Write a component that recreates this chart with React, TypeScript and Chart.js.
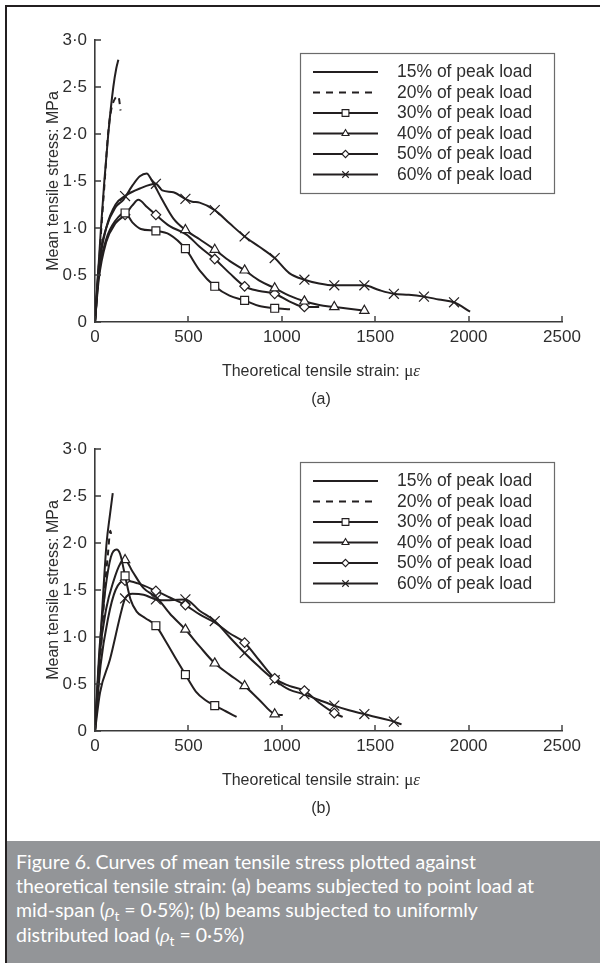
import React, { useEffect, useRef } from 'react';
import { Chart, registerables } from 'chart.js';
import { drawPoint } from 'chart.js/helpers';

Chart.register(...registerables);

// ---------- text ----------
const seriesLabels = [
  '15% of peak load',
  '20% of peak load',
  '30% of peak load',
  '40% of peak load',
  '50% of peak load',
  '60% of peak load',
];
const yAxisTitle = 'Mean tensile stress: MPa';
const xAxisTitle = 'Theoretical tensile strain: ';
const xAxisUnitMu = 'μ';
const xAxisUnitEps = 'ε';
const panelLabels = ['(a)', '(b)'];

// ---------- ticks ----------
const xTickValues = [0, 500, 1000, 1500, 2000, 2500];
const yTickValues = [0, 0.5, 1, 1.5, 2, 2.5, 3];
const yTickLabels = ['0', '0·5', '1·0', '1·5', '2·0', '2·5', '3·0'];
// strain readings at which markers were plotted
const markerStrains = [161, 326, 484, 641, 801, 962, 1121, 1281, 1442, 1600, 1761, 1922];

// ---------- panel (a): point load at mid-span ----------
const a15x = [0, 16, 32, 50, 71, 98, 114, 125];
const a15y = [0, 0.5, 1.0, 1.5, 2.0, 2.5, 2.7, 2.79];
const a20x = [0, 18, 34, 52, 70, 86, 108, 125, 137];
const a20y = [0, 0.5, 1.0, 1.5, 2.0, 2.25, 2.38, 2.4, 2.25];
const a30x = [0, 20, 60, 110, 161, 200, 245, 326, 400, 484, 560, 641, 720, 801, 880, 962, 1044];
const a30y = [0, 0.5, 0.88, 1.08, 1.16, 1.06, 0.99, 0.97, 0.93, 0.78, 0.55, 0.38, 0.28, 0.23, 0.17, 0.146, 0.135];
const a40x = [0, 20, 60, 110, 152, 200, 240, 277, 300, 360, 420, 484, 560, 641, 720, 801, 880, 962, 1040, 1121, 1200, 1281, 1360, 1442];
const a40y = [0, 0.6, 1.0, 1.22, 1.3, 1.45, 1.55, 1.58, 1.52, 1.3, 1.1, 0.98, 0.88, 0.77, 0.65, 0.55, 0.44, 0.36, 0.28, 0.22, 0.18, 0.16, 0.14, 0.12];
const a50x = [0, 20, 60, 110, 161, 200, 232, 280, 326, 400, 490, 560, 641, 720, 801, 880, 962, 1040, 1121, 1200];
const a50y = [0, 0.45, 0.85, 1.05, 1.14, 1.24, 1.3, 1.22, 1.14, 1.02, 0.93, 0.8, 0.67, 0.52, 0.38, 0.33, 0.3, 0.22, 0.16, 0.16];
const a60x = [0, 20, 60, 110, 161, 240, 326, 360, 420, 484, 520, 560, 641, 720, 801, 880, 962, 1040, 1121, 1200, 1281, 1360, 1442, 1520, 1600, 1680, 1761, 1840, 1922, 2008];
const a60y = [0, 0.55, 1.0, 1.25, 1.34, 1.42, 1.47, 1.4, 1.38, 1.31, 1.28, 1.27, 1.19, 1.05, 0.91, 0.8, 0.68, 0.52, 0.45, 0.41, 0.39, 0.39, 0.39, 0.34, 0.3, 0.29, 0.27, 0.24, 0.21, 0.11];

// ---------- panel (b): uniformly distributed load ----------
const b15x = [0, 15, 30, 45, 62, 80, 95];
const b15y = [0, 0.5, 1.0, 1.5, 2.0, 2.3, 2.53];
const b20x = [0, 18, 36, 52, 70, 82, 88];
const b20y = [0, 0.5, 1.0, 1.5, 1.9, 2.13, 2.08];
const b30x = [0, 25, 55, 85, 115, 135, 161, 190, 223, 270, 326, 380, 430, 484, 540, 590, 641, 700, 758];
const b30y = [0, 0.9, 1.5, 1.85, 1.93, 1.88, 1.65, 1.4, 1.27, 1.2, 1.12, 0.95, 0.78, 0.6, 0.42, 0.33, 0.27, 0.21, 0.15];
const b40x = [0, 25, 60, 100, 135, 161, 200, 260, 330, 400, 484, 560, 641, 720, 801, 880, 962, 1005];
const b40y = [0, 0.8, 1.3, 1.6, 1.78, 1.82, 1.7, 1.52, 1.42, 1.25, 1.08, 0.9, 0.72, 0.6, 0.48, 0.33, 0.18, 0.17];
const b50x = [0, 30, 70, 110, 161, 230, 326, 400, 484, 560, 645, 720, 801, 880, 962, 1040, 1121, 1200, 1281, 1326];
const b50y = [0, 0.7, 1.2, 1.5, 1.6, 1.57, 1.49, 1.42, 1.34, 1.24, 1.15, 1.04, 0.94, 0.75, 0.56, 0.48, 0.43, 0.3, 0.19, 0.15];
const b60x = [0, 27, 80, 143, 161, 200, 260, 326, 400, 484, 560, 641, 720, 801, 880, 962, 1040, 1121, 1200, 1281, 1360, 1442, 1520, 1600, 1641];
const b60y = [0, 0.41, 0.76, 1.29, 1.41, 1.46, 1.45, 1.4, 1.39, 1.4, 1.28, 1.17, 1.0, 0.83, 0.68, 0.54, 0.44, 0.39, 0.33, 0.27, 0.22, 0.18, 0.14, 0.1, 0.07];

// ---------- styles ----------
const INK = '#231f20';
const TEXT = '#2e2e2e';
const AXIS = '#3a3a3a';
const SANS = '"Liberation Sans", Arial, Helvetica, sans-serif';
const SERIF = '"Liberation Serif", "DejaVu Serif", serif';

const seriesStyles = [
  { dash: [] as number[], point: 'circle', r: 0, lr: 0 },
  { dash: [6, 5], point: 'circle', r: 0, lr: 0 },
  { dash: [] as number[], point: 'rect', r: 5.6, lr: 4.8 },
  { dash: [] as number[], point: 'triangle', r: 5.4, lr: 4 },
  { dash: [] as number[], point: 'rectRot', r: 4.8, lr: 3.6 },
  { dash: [] as number[], point: 'crossRot', r: 7, lr: 4.6 },
];

function buildDatasets(xs: number[][], ys: number[][]) {
  return xs.map((xArr, i) => {
    const st = seriesStyles[i];
    return {
      label: seriesLabels[i],
      data: xArr.map((x, j) => ({ x, y: ys[i][j] })),
      borderColor: INK,
      borderWidth: 2,
      borderDash: st.dash,
      cubicInterpolationMode: 'monotone' as const,
      pointStyle: st.point as any,
      pointRadius: xArr.map((x) => (st.r && markerStrains.includes(x) ? st.r : 0)),
      pointHoverRadius: 0,
      pointBorderWidth: 1.2,
      pointBorderColor: INK,
      pointBackgroundColor: '#ffffff',
      fill: false,
    };
  });
}

const decorPlugin = {
  id: 'decor',
  afterDraw(chart: any, _args: any, opts: any) {
    const { ctx, chartArea: ca, scales } = chart;
    const sx = scales.x;
    const sy = scales.y;
    ctx.save();

    // inward tick marks
    ctx.strokeStyle = AXIS;
    ctx.lineWidth = 1.4;
    ctx.setLineDash([]);
    ctx.beginPath();
    xTickValues.forEach((v) => {
      const p = Math.round(sx.getPixelForValue(v));
      ctx.moveTo(p, ca.bottom);
      ctx.lineTo(p, ca.bottom - 6);
    });
    yTickValues.forEach((v) => {
      const p = Math.round(sy.getPixelForValue(v));
      ctx.moveTo(ca.left, p);
      ctx.lineTo(ca.left + 6, p);
    });
    ctx.stroke();

    ctx.fillStyle = TEXT;
    ctx.textBaseline = 'middle';

    // y title
    ctx.font = `16px ${SANS}`;
    ctx.textAlign = 'center';
    ctx.save();
    ctx.translate(54, (ca.top + ca.bottom) / 2);
    ctx.rotate(-Math.PI / 2);
    ctx.fillText(yAxisTitle, 0, 0);
    ctx.restore();

    // x title (sans text + serif unit)
    const fSans = `16px ${SANS}`;
    const fMu = `17px ${SERIF}`;
    const fEps = `italic 17px ${SERIF}`;
    ctx.font = fSans;
    const w1 = ctx.measureText(xAxisTitle).width;
    ctx.font = fMu;
    const w2 = ctx.measureText(xAxisUnitMu).width;
    ctx.font = fEps;
    const w3 = ctx.measureText(xAxisUnitEps).width;
    const cx = 321;
    const ty = ca.bottom + 50;
    let x0 = cx - (w1 + w2 + w3) / 2;
    ctx.textAlign = 'left';
    ctx.font = fSans;
    ctx.fillText(xAxisTitle, x0, ty);
    x0 += w1;
    ctx.font = fMu;
    ctx.fillText(xAxisUnitMu, x0, ty);
    x0 += w2;
    ctx.font = fEps;
    ctx.fillText(xAxisUnitEps, x0, ty);

    // panel label
    ctx.font = `16px ${SANS}`;
    ctx.textAlign = 'center';
    ctx.fillText(opts.label, cx, ca.bottom + 78);

    // legend
    const boxL = 300.5;
    const boxR = 554.5;
    const boxT = Math.round(ca.top + 13) + 0.5;
    const boxH = 140;
    ctx.fillStyle = '#ffffff';
    ctx.fillRect(boxL, boxT, boxR - boxL, boxH);
    ctx.strokeStyle = '#6b6b6b';
    ctx.lineWidth = 1.2;
    ctx.strokeRect(boxL, boxT, boxR - boxL, boxH);
    seriesLabels.forEach((lab, i) => {
      const st = seriesStyles[i];
      const y = boxT + 18.5 + i * 20.5;
      ctx.strokeStyle = INK;
      ctx.lineWidth = 2;
      ctx.setLineDash(st.dash.length ? [7, 6] : []);
      ctx.beginPath();
      ctx.moveTo(313, y);
      ctx.lineTo(378, y);
      ctx.stroke();
      ctx.setLineDash([]);
      if (st.lr) {
        ctx.fillStyle = '#ffffff';
        ctx.strokeStyle = INK;
        ctx.lineWidth = 1.1;
        drawPoint(ctx, { pointStyle: st.point, radius: st.lr, rotation: 0, borderWidth: 1.1 } as any, 345.5, y);
      }
      ctx.fillStyle = TEXT;
      ctx.font = `17.5px ${SANS}`;
      ctx.textAlign = 'left';
      ctx.textBaseline = 'middle';
      ctx.fillText(lab, 397, y + 0.5);
    });

    ctx.restore();
  },
};

function Panel(props: { top: number; xs: number[][]; ys: number[][]; label: string }) {
  const ref = useRef<HTMLCanvasElement | null>(null);
  useEffect(() => {
    const canvas = ref.current;
    if (!canvas) return;
    const chart = new Chart(canvas, {
      type: 'line',
      data: { datasets: buildDatasets(props.xs, props.ys) as any },
      plugins: [decorPlugin as any],
      options: {
        animation: false,
        responsive: false,
        devicePixelRatio: 1,
        parsing: false as any,
        normalized: true,
        layout: { padding: { left: 0, top: 40, right: 38, bottom: 0 } },
        plugins: {
          legend: { display: false },
          tooltip: { enabled: false },
          title: { display: false },
          decor: { label: props.label },
        } as any,
        scales: {
          x: {
            type: 'linear',
            min: 0,
            max: 2500,
            afterBuildTicks: (s: any) => {
              s.ticks = xTickValues.map((v) => ({ value: v }));
            },
            afterFit: (s: any) => {
              s.height = 88;
            },
            ticks: {
              padding: 5,
              color: TEXT,
              font: { family: SANS, size: 17 },
              callback: (v: any) => String(v),
              maxRotation: 0,
              autoSkip: false,
            },
            grid: { display: false, drawTicks: false },
            border: { display: true, color: AXIS, width: 1.6 },
            title: { display: false },
          },
          y: {
            type: 'linear',
            min: 0,
            max: 3,
            afterBuildTicks: (s: any) => {
              s.ticks = yTickValues.map((v) => ({ value: v }));
            },
            afterFit: (s: any) => {
              s.width = 95;
            },
            ticks: {
              padding: 8,
              color: TEXT,
              font: { family: SANS, size: 17 },
              callback: (v: any) => {
                const k = yTickValues.indexOf(Number(v));
                return k >= 0 ? yTickLabels[k] : '';
              },
              autoSkip: false,
            },
            grid: { display: false, drawTicks: false },
            border: { display: true, color: AXIS, width: 1.6 },
            title: { display: false },
          },
        },
      },
    } as any);
    return () => chart.destroy();
  }, []);
  return (
    <canvas
      ref={ref}
      width={600}
      height={410}
      style={{ position: 'absolute', left: 0, top: props.top, width: 600, height: 410, display: 'block' }}
    />
  );
}

const captionStyle: React.CSSProperties = {
  position: 'absolute',
  left: 7,
  top: 841,
  width: 593,
  height: 122,
  background: '#939598',
  color: '#ffffff',
  fontFamily: 'Lato, "Open Sans", sans-serif',
  fontSize: 19.5,
  lineHeight: '24px',
  padding: '9px 0 0 9px',
  boxSizing: 'border-box',
  whiteSpace: 'nowrap',
};

function Rho() {
  return (
    <span>
      (<i style={{ fontFamily: SERIF }}>ρ</i>
      <span style={{ fontSize: '0.7em', position: 'relative', top: '0.3em', lineHeight: 0 }}>t</span> = 0·5%)
    </span>
  );
}

export default function App() {
  return (
    <div style={{ position: 'absolute', left: 0, top: 0, width: 600, height: 963, background: '#ffffff', overflow: 'hidden' }}>
      <div
        style={{
          position: 'absolute',
          left: 5,
          top: 5,
          width: 595,
          height: 958,
          borderTop: `2px solid ${INK}`,
          borderLeft: `2px solid ${INK}`,
          boxSizing: 'border-box',
        }}
      />
      <Panel top={0} xs={[a15x, a20x, a30x, a40x, a50x, a60x]} ys={[a15y, a20y, a30y, a40y, a50y, a60y]} label={panelLabels[0]} />
      <Panel top={409} xs={[b15x, b20x, b30x, b40x, b50x, b60x]} ys={[b15y, b20y, b30y, b40y, b50y, b60y]} label={panelLabels[1]} />
      <div style={captionStyle}>
        <div>Figure 6. Curves of mean tensile stress plotted against</div>
        <div>theoretical tensile strain: (a) beams subjected to point load at</div>
        <div>
          mid-span <Rho />; (b) beams subjected to uniformly
        </div>
        <div>
          distributed load <Rho />
        </div>
      </div>
    </div>
  );
}
